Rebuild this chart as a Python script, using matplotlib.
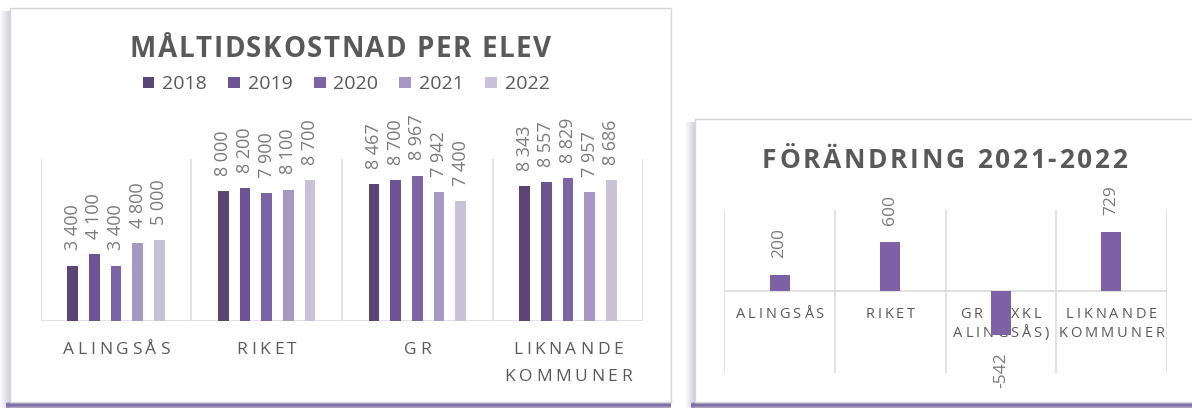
import matplotlib
matplotlib.use("Agg")
import matplotlib.pyplot as plt
import numpy as np
from matplotlib.patches import Rectangle
from matplotlib.colors import to_rgb
from matplotlib.font_manager import FontProperties, findfont, get_font

# ---- data -------------------------------------------------------------
categories = ["ALINGSÅS", "RIKET", "GR", "LIKNANDE\nKOMMUNER"]
years = ["2018", "2019", "2020", "2021", "2022"]
cost_2018 = [3400, 8000, 8467, 8343]
cost_2019 = [4100, 8200, 8700, 8557]
cost_2020 = [3400, 7900, 8967, 8829]
cost_2021 = [4800, 8100, 7942, 7957]
cost_2022 = [5000, 8700, 7400, 8686]

change_categories = ["ALINGSÅS", "RIKET", "GR (EXKL\nALINGSÅS)", "LIKNANDE\nKOMMUNER"]
change_2021_2022 = [200, 600, -542, 729]

# ---- style ------------------------------------------------------------
W, H, DPI = 1192, 408, 100
FONT = "Open Sans"
year_colors = ["#5b4577", "#6c5494", "#7c63a3", "#a698c2", "#c9c1da"]
change_color = "#7d60a6"
TEXT_DARK = "#595959"
LABEL_GREY = "#7a7a7a"
GRID = "#d9d9d9"
CAP = 0.714  # cap height of the font, in em

fig = plt.figure(figsize=(W / DPI, H / DPI), dpi=DPI)
fig.patch.set_facecolor("white")


def px_rect(x0, y0, x1, y1):
    return [x0 / W, 1 - y1 / H, (x1 - x0) / W, (y1 - y0) / H]


bg = fig.add_axes([0, 0, 1, 1], zorder=0)
bg.set_xlim(0, W)
bg.set_ylim(H, 0)
bg.axis("off")


def advances(text, size, weight):
    fp = FontProperties(family=FONT, size=size, weight=weight)
    font = get_font(findfont(fp))
    font.set_size(size, DPI)
    return [font.load_char(ord(c)).linearHoriAdvance / 65536 for c in text]


def spaced_text(cx, cy, text, size, spacing=None, span=None, weight="normal",
                color=TEXT_DARK, z=3):
    """Draw text with extra tracking, centred on (cx, cy) in pixel units."""
    adv = advances(text, size, weight)
    if span is not None:
        spacing = (span - sum(adv)) / (len(text) - 1) if len(text) > 1 else 0
    total = sum(adv) + spacing * (len(text) - 1)
    x = cx - total / 2
    base = cy + CAP * size * DPI / 72 / 2
    for ch, a in zip(text, adv):
        if ch != " ":
            bg.text(x, base, ch, ha="left", va="baseline", fontsize=size,
                    fontweight=weight, color=color, family=FONT, zorder=z)
        x += a + spacing


def panel(x0, y0, x1, y1):
    # soft shadow on the left edge
    n = 10
    shade = np.array(to_rgb("#b3a8cc"))
    for k in range(n):
        a = 0.55 * (k + 1) / n
        bg.add_patch(Rectangle((x0 - n + k, y0 + 3), 1, y1 - y0 + 3,
                               facecolor=(*shade, a), edgecolor="none", zorder=1))
    # purple band along the bottom edge
    band = np.array(to_rgb("#7a68a0"))
    for k, a in enumerate([0.35, 0.75, 0.95, 0.95, 0.8, 0.6]):
        bg.add_patch(Rectangle((x0 - 4, y1 + k), x1 - x0 + 4, 1,
                               facecolor=(*band, a), edgecolor="none", zorder=1))
    bg.add_patch(Rectangle((x0, y0), x1 - x0, y1 - y0, facecolor="white",
                           edgecolor="#d6d6d6", linewidth=1, zorder=2))


panel(10, 8, 671, 402)
panel(695, 119, 1205, 402)


def to_bg(ax, x, y):
    return bg.transData.inverted().transform(ax.transData.transform((x, y)))


def style_axes(ax):
    ax.set_facecolor("none")
    for s in ax.spines.values():
        s.set_visible(False)
    ax.set_xticks([])
    ax.set_yticks([])


# ---- left chart: cost per pupil ----------------------------------------
axL = fig.add_axes(px_rect(40.7, 159, 643.3, 320.7), zorder=5)
style_axes(axL)
axL.set_xlim(-0.5, len(categories) - 0.5)
axL.set_ylim(0, 10000)
xs = np.arange(len(categories))
axL.vlines(np.arange(len(categories) + 1) - 0.5, 0, 10000, color=GRID, lw=1.1, zorder=1)
axL.axhline(0, color=GRID, lw=1.1, zorder=1)

series = [cost_2018, cost_2019, cost_2020, cost_2021, cost_2022]
pitch, bw = 0.144, 0.071
for i, (vals, col) in enumerate(zip(series, year_colors)):
    pos = xs + (i - 2) * pitch
    axL.bar(pos, vals, width=bw, color=col, zorder=2)
    for p, v in zip(pos, vals):
        axL.annotate(f"{v:,}".replace(",", " "), (p, v), xytext=(0, 11),
                     textcoords="offset points", rotation=90, ha="center",
                     va="bottom", fontsize=13, color=LABEL_GREY, family=FONT)

spaced_text(340.5, 46.7, "MÅLTIDSKOSTNAD PER ELEV", 20, span=421, weight="bold")

# legend row
for i, (yr, col) in enumerate(zip(years, year_colors)):
    lx = 142.7 + i * 85.6
    bg.add_patch(Rectangle((lx, 76.7), 11.6, 11.6, facecolor=col,
                           edgecolor="none", zorder=3))
    bg.text(lx + 19.5, 82.5 + CAP * 14 * DPI / 72 / 2, yr, ha="left",
            va="baseline", fontsize=14, color=TEXT_DARK, family=FONT, zorder=3)

for i, cat in enumerate(categories):
    cx, _ = to_bg(axL, i, 0)
    for j, line in enumerate(cat.split("\n")):
        spaced_text(cx, 348.3 + j * 26.7, line, 12.5, spacing=3.7)

# ---- right chart: change 2021-2022 -------------------------------------
axR = fig.add_axes(px_rect(724.3, 209.5, 1166.7, 372.7), zorder=5)
style_axes(axR)
axR.set_xlim(-0.5, len(change_categories) - 0.5)
axR.set_ylim(-1000, 1000)
xr = np.arange(len(change_categories))
axR.vlines(np.arange(len(change_categories) + 1) - 0.5, -1000, 1000,
           color=GRID, lw=1.1, zorder=1)
axR.axhline(0, color=GRID, lw=1.1, zorder=1)
axR.bar(xr, change_2021_2022, width=0.18, color=change_color, zorder=2)
for p, v in zip(xr, change_2021_2022):
    up = v >= 0
    axR.annotate(f"{v}", (p, v), xytext=(0, 12 if up else -12),
                 textcoords="offset points", rotation=90, ha="center",
                 va="bottom" if up else "top", fontsize=12.5,
                 color=LABEL_GREY, family=FONT)

spaced_text(944.5, 158.5, "FÖRÄNDRING 2021-2022", 19, span=365, weight="bold")

for i, cat in enumerate(change_categories):
    cx, _ = to_bg(axR, i, 0)
    for j, line in enumerate(cat.split("\n")):
        spaced_text(cx, 312.3 + j * 19.4, line, 10.5, spacing=2.9)

fig.savefig("out.png", dpi=DPI, facecolor="white")
